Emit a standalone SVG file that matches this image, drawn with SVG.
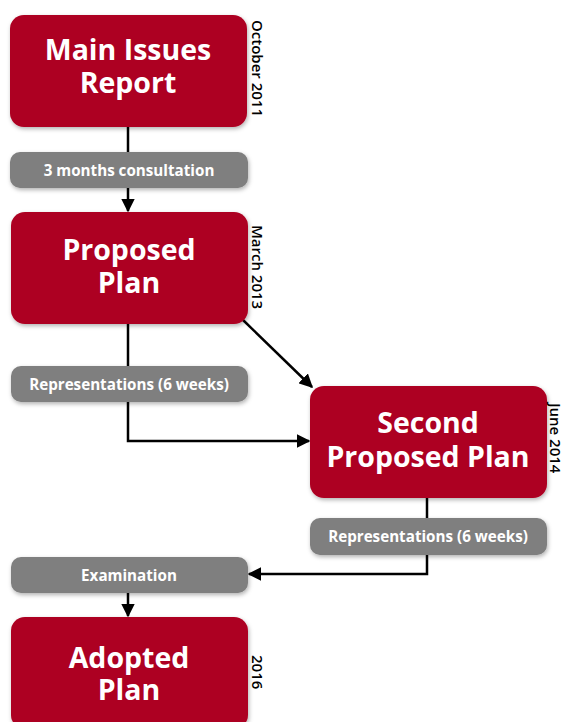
<svg xmlns="http://www.w3.org/2000/svg" width="561" height="722" viewBox="0 0 561 722">
<defs>
<style>
.node{fill:#AD0022;}
.step{fill:#7F7F7F;}
.t{fill:#fff;font-family:"Open Sans","Liberation Sans",sans-serif;font-weight:700;font-size:28.5px;text-anchor:middle;}
.s{fill:#fff;font-family:"Open Sans","Liberation Sans",sans-serif;font-weight:700;font-size:15.2px;text-anchor:middle;}
.d{fill:#000;font-family:"Open Sans","Liberation Sans",sans-serif;font-weight:600;font-size:15px;}
.c{fill:none;stroke:#000;stroke-width:2.5;}
</style>
<filter id="sh" x="-10%" y="-10%" width="130%" height="140%">
<feDropShadow dx="1" dy="2" stdDeviation="2" flood-color="#000" flood-opacity="0.3"/>
</filter>
<marker id="ah" viewBox="0 0 10 10" refX="9" refY="5" markerWidth="5.5" markerHeight="5.5" orient="auto" markerUnits="strokeWidth">
<path d="M0,0 L10,5 L0,10 z" fill="#000"/>
</marker>
</defs>
<g id="connectors">
<line class="c" x1="128" y1="127" x2="128" y2="152"/>
<line class="c" x1="128" y1="188" x2="128" y2="211" marker-end="url(#ah)"/>
<line class="c" x1="128" y1="324" x2="128" y2="366"/>
<polyline class="c" points="128,402 128,441 309,441" marker-end="url(#ah)"/>
<line class="c" x1="243" y1="320" x2="312" y2="387" marker-end="url(#ah)"/>
<line class="c" x1="427" y1="498" x2="427" y2="518"/>
<polyline class="c" points="427,555 427,574 249,574" marker-end="url(#ah)"/>
<line class="c" x1="128" y1="593" x2="128" y2="616" marker-end="url(#ah)"/>
</g>
<g id="main-issues-report">
<rect class="node" x="10" y="15" width="237" height="112" rx="14" filter="url(#sh)"/>
<text class="t" x="128" y="60">Main Issues</text>
<text class="t" x="128" y="93">Report</text>
<text class="d" transform="translate(252,20) rotate(90)">October 2011</text>
</g>
<g id="consultation">
<rect class="step" x="10" y="152" width="238" height="36" rx="10" filter="url(#sh)"/>
<text class="s" x="129" y="176">3 months consultation</text>
</g>
<g id="proposed-plan">
<rect class="node" x="11" y="212" width="237" height="112" rx="14" filter="url(#sh)"/>
<text class="t" x="129" y="260">Proposed</text>
<text class="t" x="129" y="293">Plan</text>
<text class="d" transform="translate(252,225) rotate(90)">March 2013</text>
</g>
<g id="representations-1">
<rect class="step" x="11" y="366" width="237" height="36" rx="10" filter="url(#sh)"/>
<text class="s" x="129" y="390">Representations (6 weeks)</text>
</g>
<g id="second-proposed-plan">
<rect class="node" x="310" y="386" width="237" height="112" rx="14" filter="url(#sh)"/>
<text class="t" x="428" y="433">Second</text>
<text class="t" x="428" y="467">Proposed Plan</text>
<text class="d" transform="translate(550,403) rotate(90)">June 2014</text>
</g>
<g id="representations-2">
<rect class="step" x="310" y="518" width="237" height="37" rx="10" filter="url(#sh)"/>
<text class="s" x="428" y="542">Representations (6 weeks)</text>
</g>
<g id="examination">
<rect class="step" x="11" y="557" width="237" height="36" rx="10" filter="url(#sh)"/>
<text class="s" x="129" y="581">Examination</text>
</g>
<g id="adopted-plan">
<rect class="node" x="11" y="617" width="237" height="112" rx="14" filter="url(#sh)"/>
<text class="t" x="129" y="668">Adopted</text>
<text class="t" x="129" y="700">Plan</text>
<text class="d" transform="translate(252,655) rotate(90)">2016</text>
</g>
</svg>
